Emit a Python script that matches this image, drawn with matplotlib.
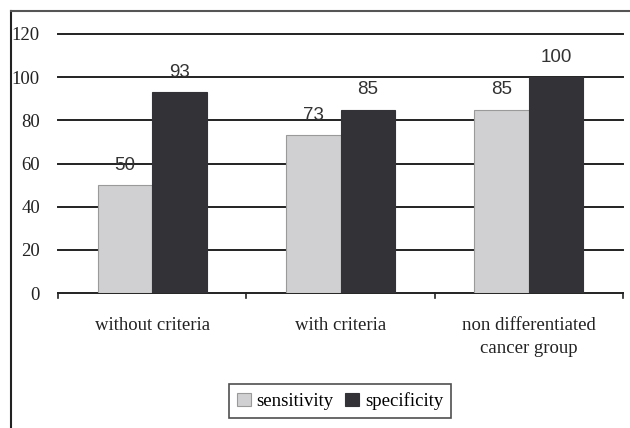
import matplotlib.pyplot as plt
import matplotlib.lines as mlines
import numpy as np

categories = ["without criteria", "with criteria", "non differentiated\ncancer group"]
sensitivity = [50, 73, 85]
specificity = [93, 85, 100]
series_names = ["sensitivity", "specificity"]
yticks = [0, 20, 40, 60, 80, 100, 120]

light = "#d0d0d2"
dark = "#333236"

fig = plt.figure(figsize=(6.3, 4.28), dpi=100)
ax = fig.add_axes([58 / 630, 1 - 293 / 428, (623 - 58) / 630, (293 - 34) / 428])

x = np.arange(len(categories))
w = 0.29
b1 = ax.bar(x - w / 2, sensitivity, w, color=light, edgecolor="#9a9a9a", linewidth=0.8,
            label=series_names[0], zorder=3)
b2 = ax.bar(x + w / 2, specificity, w, color=dark, edgecolor=dark, linewidth=0.8,
            label=series_names[1], zorder=3)

for bars, vals in ((b1, sensitivity), (b2, specificity)):
    for r, v in zip(bars, vals):
        ax.annotate(str(v), (r.get_x() + r.get_width() / 2, r.get_height()),
                    xytext=(0, 8), textcoords="offset points", ha="center", va="bottom",
                    fontsize=13.5, family="Liberation Sans", color="#333333", zorder=4)

ax.set_xlim(-0.5, 2.5)
ax.set_ylim(0, 120)
ax.set_yticks(yticks)
ax.set_yticklabels([str(t) for t in yticks], family="Liberation Serif", fontsize=13.5, color="#222222")
for t in yticks[1:]:
    ax.axhline(t, color="#222222", linewidth=1.4, zorder=1, clip_on=False)

ax.set_xticks(x)
ax.set_xticklabels(categories, family="Liberation Serif", fontsize=13.5, color="#222222",
                   linespacing=1.5)
ax.tick_params(axis="x", length=0, pad=17)
ax.tick_params(axis="y", length=0, pad=13)
# boundary ticks on x axis
for xb in [-0.5, 0.5, 1.5, 2.5]:
    ax.plot([xb, xb], [0, -2.2], color="#222222", linewidth=1.2, clip_on=False, zorder=5)

for s in ["top", "right", "left"]:
    ax.spines[s].set_visible(False)
ax.spines["bottom"].set_color("#222222")
ax.spines["bottom"].set_linewidth(1.4)

leg = fig.legend(handles=[b1, b2], loc="center", bbox_to_anchor=(340 / 630, 1 - 401 / 428),
                 ncol=2, frameon=True, fancybox=False, handlelength=0.75, handleheight=0.75,
                 handletextpad=0.3, columnspacing=0.6, borderpad=0.45, borderaxespad=0,
                 prop={"family": "Liberation Serif", "size": 13.5})
leg.get_frame().set_edgecolor("#222222")
leg.get_frame().set_linewidth(1.2)

# outer frame (left and top only)
fig.add_artist(mlines.Line2D([11 / 630, 11 / 630], [0, 1 - 11 / 428], color="#222222", linewidth=1.5))
fig.add_artist(mlines.Line2D([11 / 630, 1], [1 - 11 / 428, 1 - 11 / 428], color="#555555", linewidth=1.5))

fig.savefig("out.png", dpi=100)
